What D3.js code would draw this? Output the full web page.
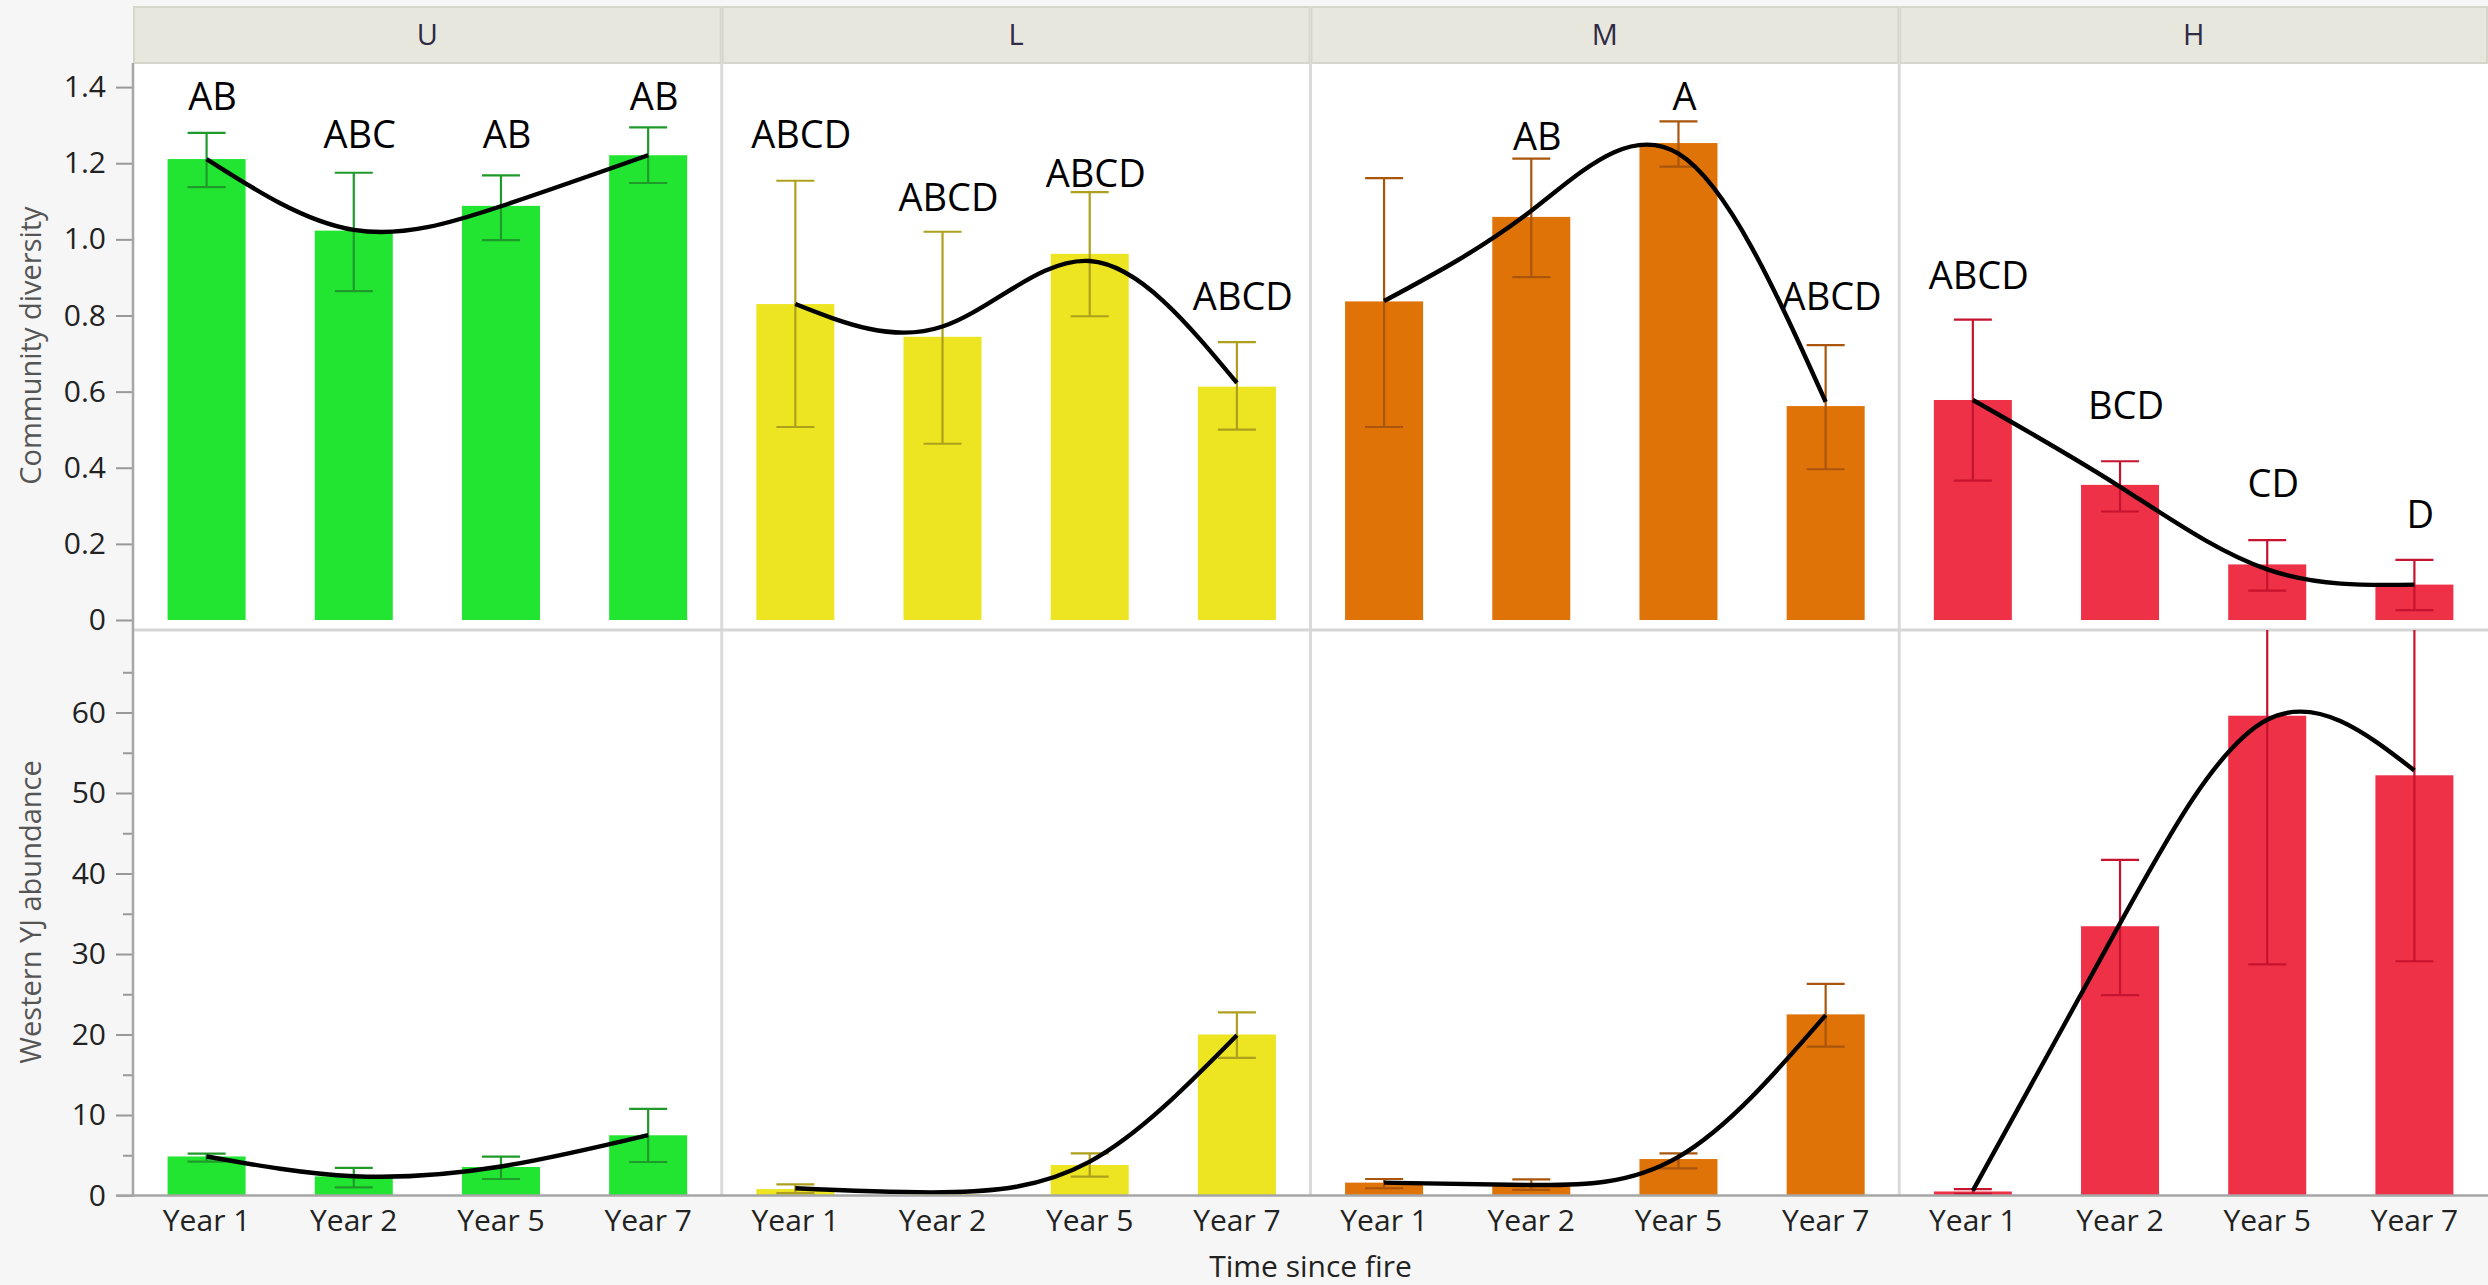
<!DOCTYPE html>
<html>
<head>
<meta charset="UTF-8">
<title></title>
<style>
  body { margin: 0; background: #f6f6f6; }
  text { font-family: "Open Sans", "Noto Sans", sans-serif; }
</style>
</head>
<body>
<script src="https://cdn.jsdelivr.net/npm/d3@7/dist/d3.min.js"></script>
<script>
// categories
var years = ["Year 1", "Year 2", "Year 5", "Year 7"];
var groups = ["U", "L", "M", "H"];
var barColors = ["#22e532", "#ede422", "#e07308", "#ee3147"];
var errColors = ["#1f9a2a", "#ada01c", "#a9560c", "#c6132f"];

// Community diversity (top row), one array per group U,L,M,H
var divMean = [[1.211, 1.023, 1.088, 1.221], [0.830, 0.744, 0.962, 0.613], [0.837, 1.059, 1.253, 0.562], [0.578, 0.355, 0.146, 0.093]];
var divLo   = [[1.137, 0.864, 0.998, 1.148], [0.507, 0.463, 0.798, 0.500], [0.507, 0.901, 1.191, 0.396], [0.366, 0.285, 0.077, 0.026]];
var divHi   = [[1.280, 1.175, 1.168, 1.294], [1.154, 1.020, 1.124, 0.730], [1.161, 1.212, 1.310, 0.722], [0.789, 0.417, 0.210, 0.158]];
var divFit  = [[1.211, 1.025, 1.087, 1.221], [0.830, 0.771, 0.943, 0.623], [0.838, 1.075, 1.225, 0.573], [0.578, 0.350, 0.133, 0.093]];
var divLetters = [["AB", "ABC", "AB", "AB"], ["ABCD", "ABCD", "ABCD", "ABCD"], ["", "AB", "A", "ABCD"], ["ABCD", "BCD", "CD", "D"]];
var divLetterAt = [[1.375, 1.275, 1.275, 1.375], [1.275, 1.111, 1.173, 0.851], [0, 1.272, 1.375, 0.851], [0.905, 0.564, 0.358, 0.278]];

// Western YJ abundance (bottom row)
var yjMean = [[4.85, 2.37, 3.54, 7.48], [0.8, 0.15, 3.79, 20.0], [1.6, 1.25, 4.53, 22.5], [0.5, 33.45, 59.6, 52.2]];
var yjLo   = [[4.2, 1.0, 2.05, 4.16], [0.3, 0.05, 2.34, 17.1], [0.9, 0.7, 3.38, 18.5], [0.2, 24.9, 28.7, 29.1]];
var yjHi   = [[5.2, 3.43, 4.84, 10.75], [1.39, 0.25, 5.24, 22.75], [2.05, 2.0, 5.24, 26.3], [0.8, 41.7, 90.5, 75.3]];
var yjFit  = [[4.85, 2.4, 3.6, 7.5], [0.9, 0.4, 4.2, 19.9], [1.6, 1.3, 4.8, 22.4], [0.6, 33.8, 59.1, 52.8]];

// tick labels
var divTicks = [0, 0.2, 0.4, 0.6, 0.8, 1.0, 1.2, 1.4];
var yjTicks = [0, 10, 20, 30, 40, 50, 60];
var yjMinor = [5, 15, 25, 35, 45, 55, 65];

var width = 2488, height = 1285;
var left = 133;
var headTop = 7, headBot = 63, rowSplit = 630, axisY = 1195.5;
var panelW = (width - left) / 4;

var svg = d3.select("body").append("svg")
    .attr("width", width)
    .attr("height", height);

svg.append("rect").attr("width", width).attr("height", height).attr("fill", "#f6f6f6");

// scales
var panelX = d3.scaleBand().domain(groups).range([left, width]).padding(0);
var yTop = d3.scaleLinear().domain([0, 1.4]).range([620, 87.1]);
var yBot = d3.scaleLinear().domain([0, 60]).range([axisY, 712.5]);

// white plot area
svg.append("rect").attr("x", left).attr("y", headBot).attr("width", width - left).attr("height", axisY - headBot).attr("fill", "#fff");

// clip paths
var defs = svg.append("defs");
groups.forEach(function(g, gi) {
    defs.append("clipPath").attr("id", "ct" + gi).append("rect")
        .attr("x", panelX(g)).attr("y", headBot).attr("width", panelW).attr("height", rowSplit - headBot);
    defs.append("clipPath").attr("id", "cb" + gi).append("rect")
        .attr("x", panelX(g)).attr("y", rowSplit).attr("width", panelW).attr("height", axisY - rowSplit);
});

// header strips
var heads = svg.append("g").selectAll("g").data(groups).join("g");
heads.append("rect")
    .attr("x", d => panelX(d) + 1)
    .attr("y", headTop)
    .attr("width", panelW - 2)
    .attr("height", headBot - headTop)
    .attr("fill", "#e8e7de")
    .attr("stroke", "#d7d6cb")
    .attr("stroke-width", 2);
heads.append("text")
    .attr("x", d => panelX(d) + panelW / 2)
    .attr("y", (headTop + headBot) / 2)
    .attr("dy", "0.35em")
    .attr("text-anchor", "middle")
    .attr("font-size", 29)
    .attr("fill", "#2f2a45")
    .text(d => d);

// grid borders
groups.slice(1).forEach(function(g) {
    svg.append("line").attr("x1", panelX(g)).attr("x2", panelX(g))
        .attr("y1", headBot).attr("y2", axisY)
        .attr("stroke", "#dadada").attr("stroke-width", 3);
});
svg.append("line").attr("x1", left).attr("x2", width).attr("y1", rowSplit).attr("y2", rowSplit)
    .attr("stroke", "#d6d6d6").attr("stroke-width", 3);

function drawRow(rowKey, yScale, mean, lo, hi, fit, clipPrefix) {
    groups.forEach(function(g, gi) {
        var xs = d3.scaleBand().domain(years)
            .range([panelX(g), panelX(g) + panelW])
            .paddingInner(0.47).paddingOuter(0.235);
        var cx = d => xs(d) + xs.bandwidth() / 2;
        var rows = years.map((y, i) => ({year: y, m: mean[gi][i], lo: lo[gi][i], hi: hi[gi][i], f: fit[gi][i]}));
        var pg = svg.append("g").attr("clip-path", "url(#" + clipPrefix + gi + ")");

        pg.selectAll("rect.bar").data(rows).join("rect")
            .attr("class", "bar")
            .attr("x", d => xs(d.year))
            .attr("y", d => yScale(d.m))
            .attr("width", xs.bandwidth())
            .attr("height", d => yScale(0) - yScale(d.m))
            .attr("fill", barColors[gi]);

        var eb = pg.selectAll("g.err").data(rows).join("g").attr("class", "err")
            .attr("stroke", errColors[gi]).attr("stroke-width", 2.2);
        eb.append("line")
            .attr("x1", d => cx(d.year)).attr("x2", d => cx(d.year))
            .attr("y1", d => yScale(d.lo)).attr("y2", d => yScale(d.hi));
        [ "lo", "hi" ].forEach(function(k) {
            eb.append("line")
                .attr("x1", d => cx(d.year) - 19).attr("x2", d => cx(d.year) + 19)
                .attr("y1", d => yScale(d[k])).attr("y2", d => yScale(d[k]));
        });

        var line = d3.line()
            .x(d => cx(d.year))
            .y(d => yScale(d.f))
            .curve(d3.curveNatural);
        pg.append("path")
            .attr("d", line(rows))
            .attr("fill", "none")
            .attr("stroke", "#000")
            .attr("stroke-width", 4.4);
    });
}

drawRow("div", yTop, divMean, divLo, divHi, divFit, "ct");
drawRow("yj", yBot, yjMean, yjLo, yjHi, yjFit, "cb");

// significance letters
groups.forEach(function(g, gi) {
    var xs = d3.scaleBand().domain(years)
        .range([panelX(g), panelX(g) + panelW])
        .paddingInner(0.47).paddingOuter(0.235);
    svg.append("g").selectAll("text")
        .data(years.map((y, i) => ({year: y, t: divLetters[gi][i], v: divLetterAt[gi][i]})).filter(d => d.t))
        .join("text")
        .attr("x", d => xs(d.year) + xs.bandwidth() / 2 + 6)
        .attr("y", d => yTop(d.v))
        .attr("dy", "0.36em")
        .attr("text-anchor", "middle")
        .attr("font-size", 38)
        .attr("fill", "#000")
        .text(d => d.t);
});

// y axes
svg.append("g")
    .attr("transform", "translate(" + left + ",0)")
    .call(d3.axisLeft(yTop).tickValues(divTicks).tickFormat(d => d === 0 ? "0" : d3.format(".1f")(d)).tickSize(17).tickPadding(10));
svg.append("g")
    .attr("transform", "translate(" + left + ",0)")
    .call(d3.axisLeft(yBot).tickValues(yjTicks).tickSize(17).tickPadding(10));
svg.append("g")
    .attr("transform", "translate(" + left + ",0)")
    .call(d3.axisLeft(yBot).tickValues(yjMinor).tickSize(10).tickFormat(""));
svg.selectAll(".domain").remove();
svg.selectAll(".tick line").attr("stroke", "#999").attr("stroke-width", 2);
svg.selectAll(".tick text").attr("font-size", 30).attr("fill", "#222").attr("font-family", "Open Sans");
svg.append("line").attr("x1", left).attr("x2", left).attr("y1", headBot).attr("y2", axisY + 1)
    .attr("stroke", "#a6a6a6").attr("stroke-width", 2.5);

// x axes
groups.forEach(function(g) {
    var xs = d3.scaleBand().domain(years)
        .range([panelX(g), panelX(g) + panelW])
        .paddingInner(0.47).paddingOuter(0.235);
    var ax = svg.append("g")
        .attr("transform", "translate(0," + axisY + ")")
        .call(d3.axisBottom(xs).tickSize(0).tickPadding(14));
    ax.select(".domain").remove();
    ax.selectAll("text").attr("font-size", 30).attr("fill", "#222").attr("font-family", "Open Sans");
});
svg.append("line").attr("x1", left - 17).attr("x2", width).attr("y1", axisY).attr("y2", axisY)
    .attr("stroke", "#a6a6a6").attr("stroke-width", 2.5);

// axis titles
svg.append("text")
    .attr("transform", "translate(31," + ((yTop(0) + yTop(1.4)) / 2 - 8) + ") rotate(-90)")
    .attr("text-anchor", "middle").attr("dy", "0.35em")
    .attr("font-size", 29).attr("fill", "#555")
    .text("Community diversity");
svg.append("text")
    .attr("transform", "translate(31," + ((yBot(0) + yBot(60)) / 2 - 42) + ") rotate(-90)")
    .attr("text-anchor", "middle").attr("dy", "0.35em")
    .attr("font-size", 29).attr("fill", "#555")
    .text("Western YJ abundance");
svg.append("text")
    .attr("x", (left + width) / 2)
    .attr("y", 1266)
    .attr("dy", "0.35em")
    .attr("text-anchor", "middle")
    .attr("font-size", 30).attr("fill", "#222")
    .text("Time since fire");
</script>
</body>
</html>
